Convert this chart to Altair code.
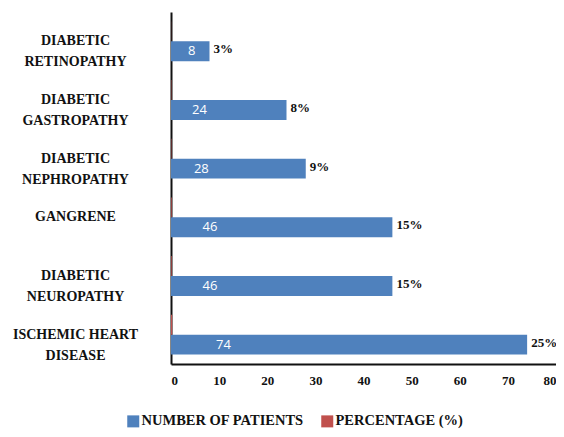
import altair as alt
import pandas as pd

categories = ["DIABETIC|RETINOPATHY", "DIABETIC|GASTROPATHY", "DIABETIC|NEPHROPATHY",
              "GANGRENE", "DIABETIC|NEUROPATHY", "ISCHEMIC HEART|DISEASE"]
patients = [8, 24, 28, 46, 46, 74]
percent_frac = [0.03, 0.08, 0.09, 0.15, 0.15, 0.25]
percent_labels = ["3%", "8%", "9%", "15%", "15%", "25%"]

S_NUM = "NUMBER OF PATIENTS"
S_PCT = "PERCENTAGE (%)"

rows = []
for c, n, p, pl in zip(categories, patients, percent_frac, percent_labels):
    rows.append({"cat": c, "series": S_NUM, "value": n, "label": str(n), "plabel": pl})
    rows.append({"cat": c, "series": S_PCT, "value": p, "label": pl, "plabel": pl})
df = pd.DataFrame(rows)
num_df = df[df.series == S_NUM].copy()

SERIF = "Liberation Serif"

y_enc = alt.Y("cat:N", sort=categories, title=None,
              scale=alt.Scale(paddingInner=0.32, paddingOuter=0.16),
              axis=alt.Axis(labelExpr="split(datum.label, '|')", labelAlign="center",
                            labelBaseline="middle", labelPadding=96, ticks=False,
                            labelFont=SERIF, labelFontSize=14, labelFontWeight="bold",
                            labelColor="#111", domainColor="#111", domainWidth=2,
                            labelLineHeight=21))
yoff = alt.YOffset("series:N", sort=[S_PCT, S_NUM], scale=alt.Scale(paddingInner=0))

bars = alt.Chart(df).mark_bar().encode(
    x=alt.X("value:Q", title=None, scale=alt.Scale(domain=[0, 80]),
            axis=alt.Axis(values=list(range(0, 81, 10)), grid=False, ticks=False,
                          labelPadding=10, labelFont=SERIF, labelFontSize=13,
                          labelFontWeight="bold", labelColor="#111", labelFlush=True,
                          domainColor="#111", domainWidth=2)),
    y=y_enc,
    yOffset=yoff,
    color=alt.Color("series:N", scale=alt.Scale(domain=[S_NUM, S_PCT], range=["#4F81BD", "#C0504D"]),
                    legend=alt.Legend(title=None, orient="none", direction="horizontal",
                                      legendX=-45, legendY=402, padding=0, symbolType="square",
                                      symbolSize=144, symbolStrokeWidth=0, labelFont=SERIF,
                                      labelFontSize=14.5, labelFontWeight="bold",
                                      labelColor="#111", columnPadding=16, labelOffset=1,
                                      labelLimit=400, symbolOpacity=1)),
)

num_text = alt.Chart(num_df).transform_calculate(
    lx="datum.value * 0.1 + 3.5"
).mark_text(color="white", fontSize=13, font="Open Sans", baseline="middle", align="center").encode(
    x="lx:Q", y=alt.Y("cat:N", sort=categories), yOffset=yoff, text="label:N")

pct_text = alt.Chart(num_df).mark_text(color="#111", fontSize=13, font=SERIF, fontWeight="bold",
                                       baseline="middle", align="left", dx=4, dy=-2).encode(
    x="value:Q", y=alt.Y("cat:N", sort=categories), yOffset=yoff, text="plabel:N")

chart = alt.layer(bars, num_text, pct_text).properties(
    width=385, height=352, autosize=alt.AutoSizeParams(type="none"),
    padding={"left": 163, "top": 4, "right": 0, "bottom": 65},
    background="white",
).configure_view(strokeWidth=0)

chart.save("out.html", embed_options={"renderer": "svg", "actions": False})
